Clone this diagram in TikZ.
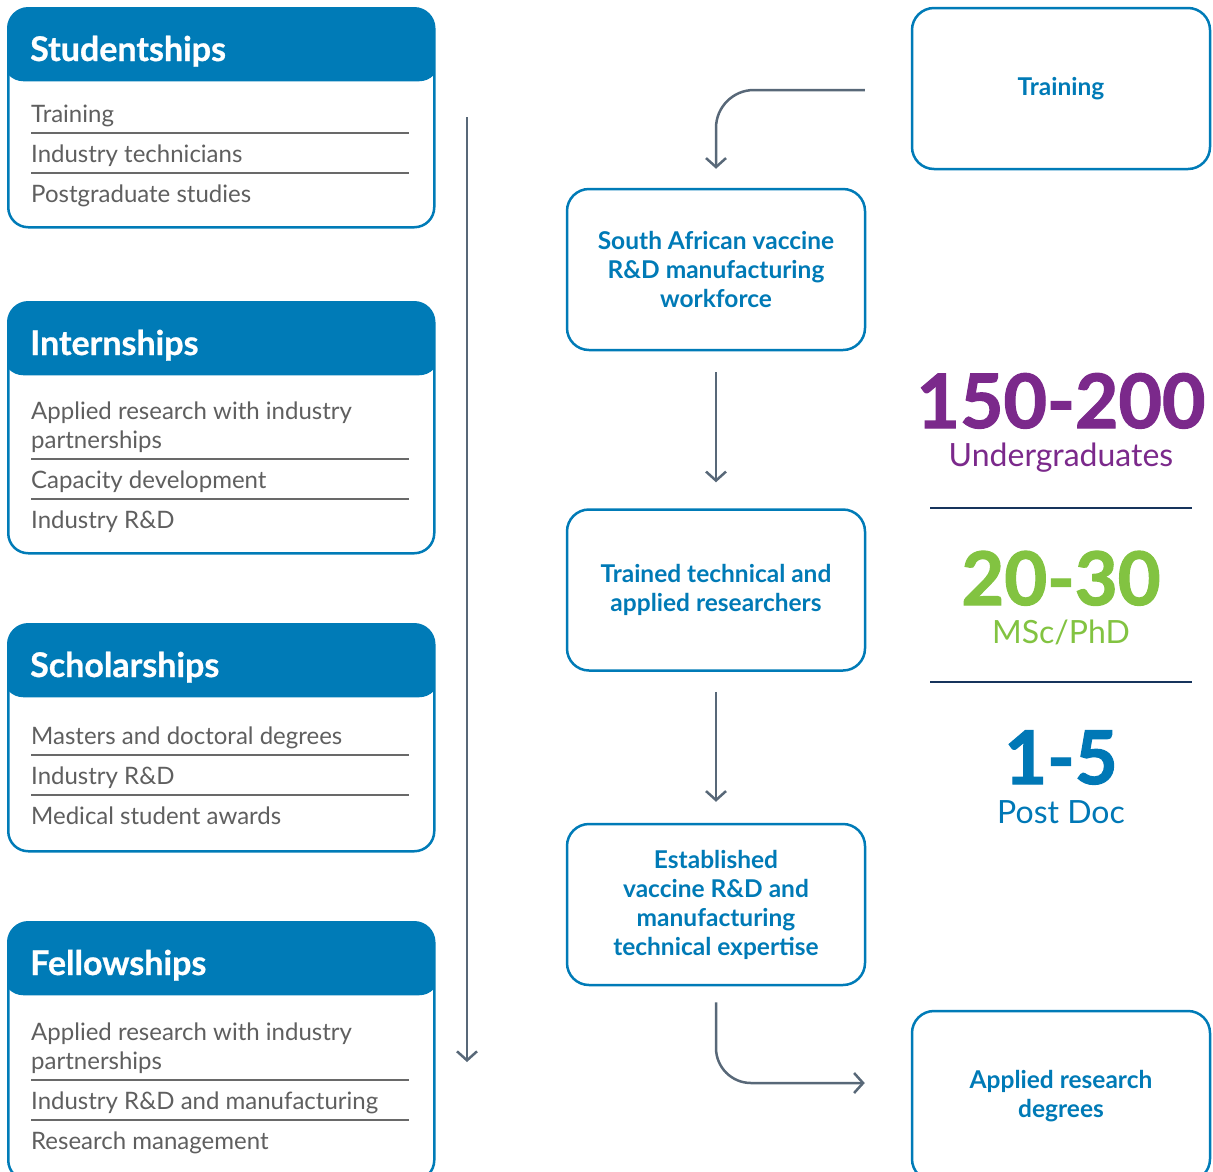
\documentclass[tikz,border=0pt]{standalone}
\usepackage{fontspec}
\setmainfont{Lato}
\newfontfamily\heavyfont{Lato}[BoldFeatures={FakeBold=1.6}]
\newfontfamily\semiheavy{Lato}[BoldFeatures={FakeBold=0.8}]
\usetikzlibrary{arrows.meta}
\definecolor{hblue}{RGB}{0,123,183}
\definecolor{tblue}{RGB}{0,122,182}
\definecolor{agray}{RGB}{88,104,120}
\definecolor{igray}{RGB}{95,95,95}
\definecolor{lgray}{RGB}{105,105,105}
\definecolor{navy}{RGB}{22,52,92}
\definecolor{purp}{RGB}{123,41,139}
\definecolor{grn}{RGB}{130,195,65}
\definecolor{sblue}{RGB}{0,120,182}
\begin{document}
\begin{tikzpicture}[x=1pt,y=-1pt,
  card/.style={draw=hblue, line width=2.5pt, rounded corners=20pt, fill=white,
    minimum width=426pt, inner sep=0pt, anchor=north west,
    path picture={\fill[hblue] ([xshift=-5pt,yshift=5pt]path picture bounding box.north west) rectangle ([xshift=5pt,yshift=-73pt]path picture bounding box.north east);}},
  ttl/.style={anchor=base west, text=white, font=\fontsize{34}{34}\selectfont\semiheavy\bfseries, inner sep=0pt},
  item/.style={anchor=base west, text=igray, font=\fontsize{24}{29}\selectfont, inner sep=0pt},
  sep/.style={draw=lgray, line width=1.3pt},
  mid/.style={draw=hblue, line width=2.5pt, rounded corners=22pt, minimum width=298pt,
    minimum height=161pt, align=center, text=tblue, inner sep=0pt,
    font=\fontsize{24.5}{29}\selectfont\bfseries},
  arr/.style={draw=agray, line width=2.5pt, -{Straight Barb[length=9pt,width=20pt]}},
  rule/.style={draw=navy, line width=2.5pt},
  big/.style={anchor=base, inner sep=0pt},
  sub/.style={anchor=base, inner sep=0pt, font=\fontsize{32}{32}\selectfont}
]
\useasboundingbox (0,0) rectangle (1213,1171);

% ---------- left cards ----------
\node[card, minimum height=219pt] (c1) at (7,7) {};
\node[ttl] (t1) at (30,61) {Studentships};
\node[item] (i11) at (31,122) {Training};
\draw[sep] (31,133) -- (409,133);
\node[item] (i12) at (31,162) {Industry technicians};
\draw[sep] (31,173) -- (409,173);
\node[item] (i13) at (31,202) {Postgraduate studies};

\node[card, minimum height=251pt] (c2) at (7,301) {};
\node[ttl] (t2) at (30,355) {Internships};
\node[item] (i21) at (31,419) {Applied research with industry};
\node[item] (i21b) at (31,448) {partnerships};
\draw[sep] (31,459) -- (409,459);
\node[item] (i22) at (31,488) {Capacity development};
\draw[sep] (31,499) -- (409,499);
\node[item] (i23) at (31,528) {Industry R\&D};

\node[card, minimum height=227pt] (c3) at (7,623) {};
\node[ttl] (t3) at (30,677) {Scholarships};
\node[item] (i31) at (31,744) {Masters and doctoral degrees};
\draw[sep] (31,755) -- (409,755);
\node[item] (i32) at (31,784) {Industry R\&D};
\draw[sep] (31,795) -- (409,795);
\node[item] (i33) at (31,824) {Medical student awards};

\node[card, minimum height=258pt] (c4) at (7,921) {};
\node[ttl] (t4) at (30,975) {Fellowships};
\node[item] (i41) at (31,1040) {Applied research with industry};
\node[item] (i41b) at (31,1069) {partnerships};
\draw[sep] (31,1080) -- (409,1080);
\node[item] (i42) at (31,1109) {Industry R\&D and manufacturing};
\draw[sep] (31,1120) -- (409,1120);
\node[item] (i43) at (31,1149) {Research management};

% long arrow
\coordinate (la1) at (467,117);
\coordinate (la2) at (467,1062);
\draw[arr] (la1) -- (la2);

% ---------- middle column ----------
\node[mid] (b1) at (716,269.5) {South African vaccine\\R\&D manufacturing\\workforce};
\node[mid] (b2) at (716,590) {Trained technical and\\applied researchers};
\node[mid] (b3) at (716,904.5) {Established\\vaccine R\&D and\\manufacturing\\technical expertise};

% ---------- right column ----------
\node[mid] (train) at (1061,88.5) {Training};
\node[mid, minimum height=170pt] (app) at (1061,1096) {Applied research\\degrees};

% connectors
\draw[arr, rounded corners=38pt] ([xshift=-46pt,yshift=-1.5pt]train.west) -| ([yshift=19pt]b1.north);
\draw[arr] ([yshift=-21pt]b1.south) -- ([yshift=26pt]b2.north);
\draw[arr] ([yshift=-20pt]b2.south) -- ([yshift=21pt]b3.north);
\draw[arr, rounded corners=35pt] ([yshift=-16pt]b3.south) |- ([xshift=-46pt,yshift=13pt]app.west);

% ---------- stats ----------
\node[big, text=purp, font=\fontsize{75}{75}\selectfont\heavyfont\bfseries] (n1) at (1061,428) {150-200};
\node[sub, text=purp] (s1) at (1061,466) {Undergraduates};
\coordinate (r1a) at (930,508);
\coordinate (r1b) at (1192,508);
\draw[rule] (r1a) -- (r1b);
\node[big, text=grn, font=\fontsize{74}{74}\selectfont\heavyfont\bfseries] (n2) at (1061,605) {20-30};
\node[sub, text=grn] (s2) at (1061,643) {MSc/PhD};
\coordinate (r2a) at (930,682);
\coordinate (r2b) at (1192,682);
\draw[rule] (r2a) -- (r2b);
\node[big, text=sblue, font=\fontsize{74}{74}\selectfont\heavyfont\bfseries] (n3) at (1061,784) {1-5};
\node[sub, text=sblue] (s3) at (1061,823) {Post Doc};
\end{tikzpicture}
\end{document}
